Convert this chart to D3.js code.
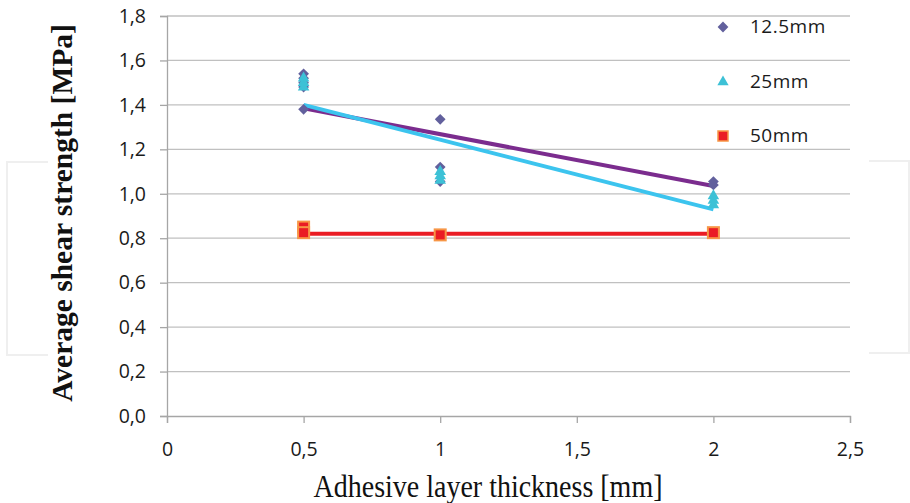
<!DOCTYPE html>
<html><head><meta charset="utf-8">
<script src="https://cdn.jsdelivr.net/npm/d3@7"></script>
<style>body{margin:0;background:#fff}</style>
</head><body>
<svg id="c" width="910" height="503"></svg>
<script>
const xTicks = [0, 0.5, 1, 1.5, 2, 2.5];
const yTicks = [0, 0.2, 0.4, 0.6, 0.8, 1.0, 1.2, 1.4, 1.6, 1.8];
const seriesNames = ["12.5mm", "25mm", "50mm"];
const s125x = [0.5, 0.5, 0.5, 0.5, 0.5, 1, 1, 1, 2, 2];
const s125y = [1.54, 1.52, 1.50, 1.48, 1.38, 1.335, 1.12, 1.055, 1.055, 1.04];
const s25x = [0.5, 0.5, 0.5, 1, 1, 1, 2, 2, 2];
const s25y = [1.52, 1.50, 1.48, 1.10, 1.08, 1.06, 0.99, 0.97, 0.95];
const s50x = [0.5, 0.5, 1, 2];
const s50y = [0.85, 0.825, 0.815, 0.825];
const trendX = [0.5, 2];
const trend125 = [1.385, 1.035];
const trend25 = [1.40, 0.93];
const trend50 = [0.82, 0.82];

const svg = d3.select("#c");
const x = d3.scaleLinear().domain([0, 2.5]).range([167, 850]);
const y = d3.scaleLinear().domain([0, 1.8]).range([416, 16]);
const fmt = d => d3.format(".1f")(d).replace(".", ",");
const fmtX = d => String(d).replace(".", ",");

// faint watermark brackets
const wm = svg.append("g").attr("fill", "none").attr("stroke", "#efefef").attr("stroke-width", 2);
wm.append("path").attr("d", "M48,162 H7 V355 H48");
wm.append("path").attr("d", "M869,161 H909 V353 H869");

// gridlines
svg.append("g").selectAll("line").data(yTicks.filter(d => d > 0)).join("line")
  .attr("x1", x(0)).attr("x2", x(2.5)).attr("y1", d => y(d)).attr("y2", d => y(d))
  .attr("stroke", "#c0c0c0").attr("stroke-width", 1.3);

const tickFont = "'Open Sans', 'Noto Sans', sans-serif";
const yAxis = svg.append("g").attr("transform", `translate(${x(0)},0)`)
  .call(d3.axisLeft(y).tickValues(yTicks).tickFormat(fmt).tickSize(7).tickPadding(14));
const xAxis = svg.append("g").attr("transform", `translate(0,${y(0)})`)
  .call(d3.axisBottom(x).tickValues(xTicks).tickFormat(fmtX).tickSize(7).tickPadding(19));
[yAxis, xAxis].forEach(a => {
  a.select(".domain").attr("stroke", "#a6a6a6").attr("stroke-width", 1.3);
  a.selectAll(".tick line").attr("stroke", "#a6a6a6").attr("stroke-width", 1.3);
  a.selectAll("text").attr("font-family", tickFont).attr("font-size", 19.5).attr("fill", "#1a1a1a");
});

// trend lines
const line = d3.line().x(d => x(d[0])).y(d => y(d[1]));
const trends = [[trend125, "#7b2c8e"], [trend25, "#3cc4ee"], [trend50, "#ea1c24"]];
trends.forEach(([t, col]) => {
  svg.append("path").datum(trendX.map((v, i) => [v, t[i]]))
    .attr("d", line).attr("fill", "none").attr("stroke", col).attr("stroke-width", 4);
});

const diamond = d3.symbol().type(d3.symbolSquare).size(58);
const tri = d3.symbol().type(d3.symbolTriangle).size(58);
const pts = (xs, ys) => xs.map((v, i) => [v, ys[i]]);

svg.append("g").selectAll("path").data(pts(s125x, s125y)).join("path")
  .attr("d", diamond).attr("transform", d => `translate(${x(d[0])},${y(d[1])}) rotate(45)`)
  .attr("fill", "#62609d");
svg.append("g").selectAll("path").data(pts(s25x, s25y)).join("path")
  .attr("d", tri).attr("transform", d => `translate(${x(d[0])},${y(d[1])})`)
  .attr("fill", "#3dc1d6");
svg.append("g").selectAll("rect").data(pts(s50x, s50y)).join("rect")
  .attr("x", d => x(d[0]) - 5.5).attr("y", d => y(d[1]) - 5.5).attr("width", 11).attr("height", 11)
  .attr("fill", "#ea1c24").attr("stroke", "#f79646").attr("stroke-width", 2);

// legend
const legY = [27, 82, 136];
const lg = svg.append("g");
lg.append("path").attr("d", d3.symbol().type(d3.symbolSquare).size(58)).attr("transform", `translate(723,${legY[0]}) rotate(45)`).attr("fill", "#62609d");
lg.append("path").attr("d", d3.symbol().type(d3.symbolTriangle).size(55)).attr("transform", `translate(723,${legY[1]})`).attr("fill", "#3dc1d6");
lg.append("rect").attr("x", 718).attr("y", legY[2] - 5).attr("width", 10).attr("height", 10).attr("fill", "#ea1c24").attr("stroke", "#f79646").attr("stroke-width", 1.5);
lg.selectAll("text").data(seriesNames).join("text")
  .attr("x", 750).attr("y", (d, i) => legY[i]).attr("dy", "0.33em")
  .attr("font-family", tickFont).attr("font-size", 19).attr("letter-spacing", 0.5).attr("fill", "#1a1a1a").text(d => d);

// axis titles
svg.append("text").attr("transform", "translate(488,497) scale(1,1.15)").attr("text-anchor", "middle")
  .attr("font-family", "'Liberation Serif', 'DejaVu Serif', serif").attr("font-size", 28).attr("fill", "#111")
  .text("Adhesive layer thickness [mm]");
svg.append("text").attr("transform", "translate(72,213) rotate(-90)").attr("text-anchor", "middle")
  .attr("font-family", "'Liberation Serif', 'DejaVu Serif', serif").attr("font-size", 29.5).attr("font-weight", "bold").attr("fill", "#111")
  .text("Average shear strength [MPa]");
</script>
</body></html>
